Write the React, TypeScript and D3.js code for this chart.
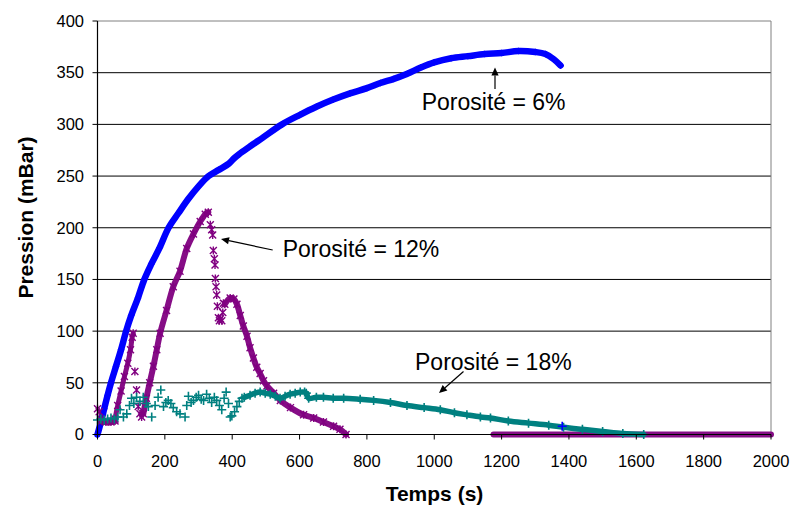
import React from "react";
import * as d3 from "d3";

// ---- data ----
const xTicks = [0, 200, 400, 600, 800, 1000, 1200, 1400, 1600, 1800, 2000];
const yTicks = [0, 50, 100, 150, 200, 250, 300, 350, 400];

// Porosité = 6% (dense blue band)
const blue6: [number, number][] = [
  [0, 0], [10, 12], [20, 25], [30, 38], [40, 50], [55, 66], [70, 82], [85, 100],
  [100, 115], [120, 132], [139, 150], [160, 165], [185, 181], [211, 200], [240, 214],
  [270, 228], [300, 240], [330, 250], [360, 256], [390, 262], [405, 267], [420, 271],
  [450, 278], [490, 287], [548, 300], [600, 309], [650, 317], [700, 324], [750, 330],
  [800, 335], [840, 340], [880, 344], [920, 349], [960, 355], [1000, 360], [1050, 364],
  [1100, 366], [1150, 368], [1200, 369], [1250, 371], [1300, 370], [1330, 368],
  [1355, 363], [1375, 357],
];
const blue6Stray: [number, number][] = [[1380, 8]];

// Porosité = 12% (purple asterisks)
const purpleStart: [number, number][] = [[0, 25], [5, 22], [10, 15]];
const purpleFlat: [number, number][] = [[12, 13], [25, 12], [40, 12], [52, 13]];
const purpleRise1: [number, number][] = [
  [52, 15], [60, 28], [70, 42], [80, 56], [90, 69], [98, 82], [103, 94], [106, 98],
];
const purpleFall1: [number, number][] = [[111, 61], [116, 43], [121, 27], [126, 20], [131, 17]];
const purpleRise2: [number, number][] = [
  [136, 20], [145, 35], [155, 50], [166, 66], [176, 82], [186, 98], [205, 120],
  [225, 143], [245, 158], [265, 180], [285, 194], [305, 206], [320, 213], [329, 215],
];
const purpleDrop: [number, number][] = [
  [335, 203], [339, 198], [342, 193], [344, 178], [347, 170], [349, 164], [350, 151],
  [352, 143], [354, 135], [356, 124], [359, 113], [362, 110], [365, 112], [369, 110],
  [372, 118], [374, 127],
];
const purpleTail: [number, number][] = [
  [378, 126], [394, 132], [405, 131], [414, 126], [424, 115], [433, 105], [444, 95],
  [453, 84], [463, 74], [473, 65], [483, 59], [493, 52], [503, 47], [523, 40],
  [543, 33], [573, 26], [612, 19], [642, 16], [671, 12], [701, 8], [720, 5], [738, 0],
];
const purpleZero: [number, number][] = [[1176, 0], [1400, 0], [1600, 0], [1800, 0], [2000, 0]];

// Porosité = 18% (teal plus signs)
const tealNoisy: [number, number][] = [
  [0, 14], [10, 15], [20, 14], [30, 15], [40, 16], [50, 15], [60, 17], [67, 24],
  [77, 17], [87, 20], [95, 28], [101, 35], [108, 30], [116, 36], [126, 32], [136, 36],
  [145, 30], [151, 27], [161, 17], [171, 28], [180, 36], [188, 43], [196, 27],
  [203, 31], [210, 33], [218, 30], [225, 26], [235, 22], [245, 20], [260, 17],
  [265, 28], [270, 37], [278, 31], [285, 33], [293, 36], [300, 38], [308, 34],
  [315, 33], [324, 39], [332, 35], [339, 31], [347, 36], [354, 33], [362, 28],
  [369, 24], [376, 35], [382, 41], [389, 30], [394, 17], [399, 18], [407, 22],
  [414, 27], [421, 32], [429, 35],
];
const tealBand: [number, number][] = [
  [436, 36], [453, 38], [468, 40], [483, 41], [498, 40], [513, 39], [528, 37],
  [542, 35], [557, 37], [572, 39], [587, 40], [602, 41], [615, 41], [620, 40],
  [627, 35], [650, 36], [671, 36], [700, 35], [731, 35], [780, 34], [820, 33],
  [870, 31], [919, 28], [970, 26], [1018, 24], [1060, 21], [1097, 19], [1137, 17],
  [1167, 16], [1220, 13], [1280, 11], [1340, 9], [1384, 7], [1440, 5], [1500, 3],
  [1560, 1], [1622, 0],
];

const labels = [
  { text: "Porosité = 6%", x: 421.7, y: 109.5 },
  { text: "Porosité = 12%", x: 282.7, y: 256.5 },
  { text: "Porosité = 18%", x: 415, y: 370 },
];
const arrows = [
  { x1: 495, y1: 89, x2: 495, y2: 67.5 },
  { x1: 272.7, y1: 250, x2: 221, y2: 239 },
  { x1: 463.5, y1: 371.5, x2: 439, y2: 393 },
];

const BLUE = "#0000FF";
const PURPLE = "#800080";
const TEAL = "#008080";
const FONT = "'Liberation Sans', Arial, sans-serif";

const W = 792;
const H = 507;
const xS = d3.scaleLinear().domain([0, 2000]).range([97.5, 771]);
const yS = d3.scaleLinear().domain([0, 400]).range([434.5, 21]);

const lineGen = d3
  .line<[number, number]>()
  .x((d) => xS(d[0]))
  .y((d) => yS(d[1]))
  .curve(d3.curveCatmullRom);

function Plus({ x, y, c }: { x: number; y: number; c: string }) {
  const s = 4.5;
  return (
    <path d={`M${x - s},${y}H${x + s}M${x},${y - s}V${y + s}`} stroke={c} strokeWidth={1.6} fill="none" />
  );
}
function Star({ x, y, c }: { x: number; y: number; c: string }) {
  const s = 3.5;
  return (
    <path
      d={`M${x - s},${y - s}L${x + s},${y + s}M${x - s},${y + s}L${x + s},${y - s}M${x},${y - s - 0.5}V${y + s + 0.5}`}
      stroke={c}
      strokeWidth={1.4}
      fill="none"
    />
  );
}
function Diamond({ x, y, c }: { x: number; y: number; c: string }) {
  const s = 3.5;
  return <path d={`M${x},${y - s}L${x + s},${y}L${x},${y + s}L${x - s},${y}Z`} fill={c} />;
}

function Arrow({ x1, y1, x2, y2 }: { x1: number; y1: number; x2: number; y2: number }) {
  const ang = Math.atan2(y2 - y1, x2 - x1);
  const L = 8;
  const Wd = 3.6;
  const bx = x2 - L * Math.cos(ang);
  const by = y2 - L * Math.sin(ang);
  const px = -Math.sin(ang) * Wd;
  const py = Math.cos(ang) * Wd;
  return (
    <g>
      <line x1={x1} y1={y1} x2={bx} y2={by} stroke="#000" strokeWidth={1.2} />
      <path d={`M${x2},${y2}L${bx + px},${by + py}L${bx - px},${by - py}Z`} fill="#000" />
    </g>
  );
}

export default function App() {
  const [x0, x1] = xS.range();
  const yTop = yS(400);
  const yBot = yS(0);
  return (
    <svg
      width={W}
      height={H}
      style={{ position: "absolute", left: 0, top: 0, background: "#fff" }}
      fontFamily={FONT}
    >
      {/* gridlines */}
      {yTicks
        .filter((t) => t > 0 && t < 400)
        .map((t) => (
          <line key={t} x1={x0} x2={x1} y1={yS(t)} y2={yS(t)} stroke="#000" strokeWidth={1} />
        ))}
      {/* plot border top/right */}
      <line x1={x0} x2={x1} y1={yTop} y2={yTop} stroke="#808080" strokeWidth={1} />
      <line x1={x1} x2={x1} y1={yTop} y2={yBot} stroke="#808080" strokeWidth={1} />

      {/* series: 6% */}
      <path d={lineGen(blue6) || ""} stroke={BLUE} strokeWidth={6.5} fill="none" strokeLinecap="round" strokeLinejoin="round" />
      {blue6.map((d, i) => (
        <Diamond key={"b" + i} x={xS(d[0])} y={yS(d[1])} c={BLUE} />
      ))}

      {/* series: 12% */}
      {[purpleFlat, purpleRise1, purpleRise2, purpleTail, purpleZero].map((seg, k) => (
        <path
          key={"ps" + k}
          d={lineGen(seg) || ""}
          stroke={PURPLE}
          strokeWidth={k === 1 ? 5 : 6}
          fill="none"
          strokeLinecap="round"
          strokeLinejoin="round"
          opacity={0.95}
        />
      ))}
      {[...purpleStart, ...purpleFlat, ...purpleRise1, ...purpleFall1, ...purpleRise2, ...purpleDrop, ...purpleTail].map(
        (d, i) => (
          <Star key={"p" + i} x={xS(d[0])} y={yS(d[1])} c={PURPLE} />
        )
      )}

      {/* series: 18% */}
      <path d={lineGen(tealBand) || ""} stroke={TEAL} strokeWidth={5.5} fill="none" strokeLinecap="round" strokeLinejoin="round" />
      {[...tealNoisy, ...tealBand].map((d, i) => (
        <Plus key={"t" + i} x={xS(d[0])} y={yS(d[1])} c={TEAL} />
      ))}
      {blue6Stray.map((d, i) => (
        <Plus key={"bs" + i} x={xS(d[0])} y={yS(d[1])} c={BLUE} />
      ))}

      {/* axes */}
      <line x1={x0} x2={x0} y1={yTop} y2={yBot} stroke="#000" strokeWidth={1.2} />
      <line x1={x0} x2={x1} y1={yBot} y2={yBot} stroke="#000" strokeWidth={1.2} />
      {yTicks.map((t) => (
        <g key={"yt" + t}>
          <line x1={x0 - 5} x2={x0} y1={yS(t)} y2={yS(t)} stroke="#000" />
          <text x={84} y={yS(t)} dy="0.35em" textAnchor="end" fontSize={16.5} fill="#000">
            {t}
          </text>
        </g>
      ))}
      {xTicks.map((t) => (
        <g key={"xt" + t}>
          <line x1={xS(t)} x2={xS(t)} y1={yBot} y2={yBot + 5} stroke="#000" />
          <text x={xS(t)} y={466.5} textAnchor="middle" fontSize={16.5} fill="#000">
            {t}
          </text>
        </g>
      ))}

      {/* axis titles */}
      <text x={434.5} y={501} textAnchor="middle" fontSize={21} fontWeight="bold" fill="#000">
        Temps (s)
      </text>
      <text
        transform={`translate(32.5,${217.5}) rotate(-90)`}
        textAnchor="middle"
        fontSize={21}
        fontWeight="bold"
        fill="#000"
      >
        Pression (mBar)
      </text>

      {/* annotations */}
      {labels.map((l) => (
        <text key={l.text} x={l.x} y={l.y} fontSize={23} fill="#000">
          {l.text}
        </text>
      ))}
      {arrows.map((a, i) => (
        <Arrow key={"a" + i} {...a} />
      ))}
    </svg>
  );
}
